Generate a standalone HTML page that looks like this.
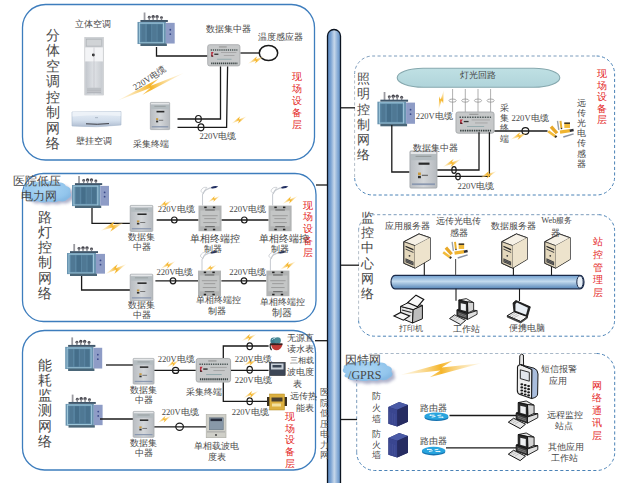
<!DOCTYPE html>
<html><head><meta charset="utf-8"><style>
html,body{margin:0;padding:0;background:#fff;width:631px;height:483px;overflow:hidden}
#c{position:relative;width:631px;height:483px;overflow:hidden}
svg{position:absolute;left:0;top:0}
.t{position:absolute;font-family:"Liberation Serif",serif;color:#484848;white-space:nowrap;line-height:1}
.vv{text-align:center;white-space:normal}
.r{color:#e42626}
.g{color:#555}
</style></head><body><div id="c">
<svg width="631" height="483" viewBox="0 0 631 483">
<defs>
<linearGradient id="pipe" x1="0" x2="1" y1="0" y2="0">
<stop offset="0" stop-color="#5a88c0"/><stop offset="0.25" stop-color="#7aa2d2"/><stop offset="0.52" stop-color="#c6d7ea"/><stop offset="0.8" stop-color="#82a8d4"/><stop offset="1" stop-color="#6592c8"/>
</linearGradient>
<linearGradient id="bus" x1="0" x2="0" y1="0" y2="1">
<stop offset="0" stop-color="#6d9ccc"/><stop offset="0.45" stop-color="#c4dbef"/><stop offset="1" stop-color="#5585b8"/>
</linearGradient>
<linearGradient id="boltg" x1="0" x2="1" y1="0" y2="0">
<stop offset="0" stop-color="#fbe0a0" stop-opacity="0.25"/><stop offset="0.5" stop-color="#f5b52a"/><stop offset="1" stop-color="#fbe0a0" stop-opacity="0.25"/>
</linearGradient>
<radialGradient id="cloudg" cx="0.45" cy="0.4" r="0.6">
<stop offset="0" stop-color="#acd6f4"/><stop offset="0.8" stop-color="#92c5ec"/><stop offset="1" stop-color="#86bae4"/>
</radialGradient>
<linearGradient id="ellg" x1="0" x2="0" y1="0" y2="1">
<stop offset="0" stop-color="#bfe0e4"/><stop offset="1" stop-color="#b0d4da"/>
</linearGradient>
<linearGradient id="ctg" x1="0" x2="1" y1="0" y2="0">
<stop offset="0" stop-color="#b9bdc2"/><stop offset="0.5" stop-color="#d3d6d9"/><stop offset="1" stop-color="#b6babf"/>
</linearGradient>
<linearGradient id="svfront" x1="0" x2="1" y1="0" y2="0">
<stop offset="0" stop-color="#efe6cf"/><stop offset="1" stop-color="#d9cba8"/>
</linearGradient>
<linearGradient id="acg" x1="0" x2="1" y1="0" y2="0"><stop offset="0" stop-color="#c2c6cc"/><stop offset="0.5" stop-color="#dfe2e6"/><stop offset="1" stop-color="#c6cacf"/></linearGradient>
<linearGradient id="wacg" x1="0" x2="0" y1="0" y2="1"><stop offset="0" stop-color="#e8eef6"/><stop offset="0.6" stop-color="#d2deec"/><stop offset="1" stop-color="#aebcd0"/></linearGradient>
<filter id="blur1" x="-20%" y="-20%" width="140%" height="140%"><feGaussianBlur stdDeviation="1.5"/></filter>

<symbol id="tr" viewBox="0 0 38 34" overflow="visible" preserveAspectRatio="none">
<rect x="6.3" y="0" width="1.8" height="8" fill="#9a9aa0"/>
<circle cx="12" cy="4.8" r="1.5" fill="#55555c"/><rect x="11.3" y="4.8" width="1.4" height="3.2" fill="#8a8a90"/>
<circle cx="16" cy="4.2" r="1.7" fill="#3e3e46"/><rect x="15.3" y="4.2" width="1.4" height="3.8" fill="#8a8a90"/>
<circle cx="20" cy="4.2" r="1.7" fill="#4a4a52"/><rect x="19.3" y="4.2" width="1.4" height="3.8" fill="#8a8a90"/>
<circle cx="24.5" cy="5.2" r="1.5" fill="#4a4a52"/><rect x="23.8" y="5.2" width="1.4" height="2.8" fill="#8a8a90"/>
<rect x="3" y="7.6" width="28" height="2" fill="#3f566a"/>
<rect x="0" y="9.6" width="29" height="22.4" fill="#6994b0"/>
<rect x="2" y="10.8" width="24.5" height="20" fill="#5a86a3" stroke="#a6cee0" stroke-width="0.9"/>
<rect x="4" y="12" width="4" height="17.5" fill="#4f7894"/>
<rect x="9.5" y="12" width="4.5" height="17.5" fill="#456e8a"/>
<rect x="15" y="12" width="4.5" height="17.5" fill="#4f7894"/>
<rect x="20.5" y="12" width="4.5" height="17.5" fill="#49728e"/>
<rect x="29" y="10.5" width="9" height="21" fill="#8e9cc6"/>
<circle cx="33.5" cy="17.5" r="0.9" fill="#3a4a8a"/><circle cx="33.5" cy="22" r="0.9" fill="#3a4a8a"/>
<rect x="3" y="31.5" width="27" height="2.5" fill="#4a6678"/>
</symbol>

<symbol id="ct" viewBox="0 0 23 26" overflow="visible" preserveAspectRatio="none">
<rect x="0.4" y="0.4" width="22.2" height="25.2" rx="0.8" fill="url(#ctg)" stroke="#a6aaae" stroke-width="0.8"/>
<rect x="1" y="0.8" width="21" height="1.6" fill="#e4e6e8"/>
<rect x="1.2" y="2.4" width="20.6" height="4.2" fill="#b4bcc0"/>
<rect x="5" y="3.6" width="13" height="0.6" fill="#8a9090"/>
<rect x="7.5" y="8.2" width="9" height="1.5" fill="#2a2a2a"/>
<rect x="7" y="15" width="2.4" height="1.8" fill="#c89a40"/>
<rect x="7" y="17.3" width="2.4" height="1.6" fill="#303030"/>
<rect x="10.2" y="16.5" width="5" height="0.9" fill="#707070"/>
<rect x="2" y="22.4" width="19" height="1.2" fill="#8a98b0"/>
</symbol>

<symbol id="cw" viewBox="0 0 34 22" overflow="visible" preserveAspectRatio="none">
<rect x="0.4" y="0.4" width="33.2" height="21.2" rx="2" fill="#c6c8c9" stroke="#a2a5a7" stroke-width="0.8"/>
<rect x="12" y="2.2" width="8" height="0.9" fill="#8a8a8a"/>
<path d="M3.5 5.6 H31" stroke="#4a5656" stroke-width="1.5" stroke-dasharray="1.3 0.9"/>
<path d="M4 19 H31" stroke="#3a4444" stroke-width="1.8" stroke-dasharray="1.3 0.7"/>
<path d="M4 7.8 L6.5 7.8 L5.2 10 L6.5 12.3 L4 12.3 Z" fill="#b83040"/>
<path d="M4.3 10.5 L6 12.5 L4.3 12.5 Z" fill="#222"/>
<rect x="7.2" y="9.3" width="4.2" height="1.3" fill="#333"/>
<rect x="14" y="8" width="16" height="0.7" fill="#9a9a9a"/>
<rect x="17" y="11" width="11" height="0.7" fill="#9a9a9a"/>
<rect x="10" y="14.5" width="15" height="0.8" fill="#8aa4a8"/>
</symbol>

<symbol id="sc" viewBox="0 0 24 26" overflow="visible" preserveAspectRatio="none">
<rect x="0" y="0" width="24" height="26" fill="#b2b4b4"/>
<rect x="2" y="5" width="20" height="16" fill="#c4c6c6"/>
<rect x="6" y="1" width="2.5" height="1.6" fill="#222"/><rect x="15" y="1" width="2.5" height="1.6" fill="#222"/>
<rect x="6" y="23.5" width="2.5" height="1.6" fill="#222"/><rect x="15" y="23.5" width="2.5" height="1.6" fill="#222"/>
<rect x="7" y="4" width="10" height="0.9" fill="#555"/>
<rect x="4" y="10" width="16" height="0.7" fill="#8a8a8a"/>
<rect x="6" y="13" width="12" height="0.7" fill="#8a8a8a"/>
<rect x="5" y="17" width="14" height="0.7" fill="#8a8a8a"/>
<rect x="7" y="21" width="10" height="0.9" fill="#555"/>
</symbol>

<symbol id="lamp" viewBox="0 0 24 22" overflow="visible" preserveAspectRatio="none">
<path d="M4 22 V10 Q6 3 17 2" fill="none" stroke="#c8ccd2" stroke-width="1.2"/>
<path d="M2 6 Q4 1 9 2 Q6 5 5 9 Z" fill="none" stroke="#c0c4ca" stroke-width="0.8"/>
<path d="M14 1.5 Q19 -0.5 22 1 Q19 3.5 14 3 Z" fill="#1f2d60"/>
</symbol>

<symbol id="sv" viewBox="0 0 28 37" overflow="visible" preserveAspectRatio="none">
<path d="M1 9 L16 1 L27 5 L27 27 L12 36 L1 31 Z" fill="#f0e8d6" stroke="#111" stroke-width="1.3" stroke-linejoin="round"/>
<path d="M1 9 L16 1 L27 5 L12 13 Z" fill="#f6f1e6" stroke="#222" stroke-width="0.7"/>
<path d="M1 9 L12 13 L12 36 L1 31 Z" fill="#e4d8bc" stroke="#222" stroke-width="0.7"/>
<path d="M12 13 L27 5 L27 27 L12 36 Z" fill="#ede3cc"/>
<path d="M2.5 13 L10.5 16.5 L10.5 18 L2.5 14.5 Z" fill="#222"/>
<path d="M2.5 16 L10.5 19.5 L10.5 20.5 L2.5 17 Z" fill="#444"/>
<circle cx="6.5" cy="23.5" r="0.9" fill="#333"/>
<path d="M2.5 26 L10.5 29.5 L10.5 33.5 L2.5 30 Z" fill="#333"/>
<path d="M3 27.5 L10 30.5 M3 29 L10 32" stroke="#bbb" stroke-width="0.4"/>
</symbol>

<symbol id="ps" viewBox="0 0 26 21" overflow="visible" preserveAspectRatio="none">
<path d="M9.5 2 L10.8 11.5" stroke="#9aa2aa" stroke-width="1.4"/>
<path d="M12.5 2 L13.4 9.5" stroke="#e8b030" stroke-width="2"/><circle cx="13.5" cy="10" r="0.8" fill="#333"/>
<rect x="16.3" y="4" width="5.7" height="5.4" fill="#f2bb3a"/><rect x="16.3" y="3.6" width="5.7" height="1.6" fill="#3a3428"/>
<path d="M3 8 L9 15" stroke="#e8a828" stroke-width="3.4"/>
<path d="M0.2 12.9 L7.2 18.1" stroke="#f2bb3a" stroke-width="2.7"/><path d="M7 17.9 L8.6 19.1" stroke="#3a3428" stroke-width="2.4"/>
<path d="M12 13.8 L22 12.3" stroke="#f0b430" stroke-width="3.4"/><path d="M21.8 12.3 L25.6 11.6" stroke="#2f2f35" stroke-width="2.6"/>
<path d="M15.3 19 L25.6 15.6" stroke="#8a92a2" stroke-width="1.6"/>
</symbol>

<symbol id="ws" viewBox="0 0 30 28" overflow="visible" preserveAspectRatio="none">
<path d="M8.5 12.2 L11.2 11.2 L30.1 12.9 L19.8 16.2 Z" fill="#f2f2f2" stroke="#111" stroke-width="0.9" stroke-linejoin="round"/>
<path d="M8.5 12.2 L19.8 16.2 L19.8 22.5 L8.5 18.2 Z" fill="#3a3a3a" stroke="#111" stroke-width="0.9"/>
<path d="M10 15.5 L18.5 18.5 M10 17 L18.5 20" stroke="#bbb" stroke-width="0.5"/>
<path d="M19.8 16.2 L30.1 12.9 L30.1 16.9 L19.8 22.5 Z" fill="#e0e0e0" stroke="#111" stroke-width="0.9"/>
<path d="M10.5 1.6 L18.5 0 L26.4 4.3 L19.8 3.6 Z" fill="#e8e8e8" stroke="#111" stroke-width="0.9"/>
<path d="M19.8 3.6 L26.4 4.3 L26.4 12.6 L20.1 15.5 Z" fill="#d4d4d4" stroke="#111" stroke-width="0.9"/>
<path d="M10.5 1.6 L19.8 3.6 L20.1 15.5 L10.5 12.9 Z" fill="#2a2a2a" stroke="#111" stroke-width="0.9"/>
<path d="M12.6 4.9 L18.1 6.2 L18.1 13.4 L12.6 12 Z" fill="#eef0f2"/>
<path d="M0.6 21.5 L5.9 17.5 L17.8 23.5 L12.5 28 Z" fill="#e6e6e6" stroke="#111" stroke-width="1"/>
<path d="M3 21.2 L7 18.6 M5 22.3 L9 19.7 M7.2 23.5 L11.2 20.9" stroke="#999" stroke-width="0.5"/>
</symbol>

<symbol id="pr" viewBox="0 0 32 30" overflow="visible" preserveAspectRatio="none">
<path d="M10 10 L20 4 L31 8 L31 22 L22 28 L10 24 Z" fill="#dcdcdc" stroke="#111" stroke-width="1"/>
<path d="M10 10 L20 4 L31 8 L22 13 Z" fill="#f0f0f0" stroke="#111" stroke-width="0.8"/>
<path d="M22 13 L22 28" stroke="#111" stroke-width="0.8"/>
<path d="M22 13 L31 8 L31 22 L22 28 Z" fill="#b8b8b8"/>
<path d="M15 8 L21 1 L29 4.5 L23 10.5 Z" fill="#fafafa" stroke="#111" stroke-width="0.9"/>
<path d="M1 19 L11 15 L21 20 L11 25 Z" fill="#f6f6f6" stroke="#111" stroke-width="1"/>
<path d="M4 19.5 L11 16.8 M6 21 L13 18.3" stroke="#777" stroke-width="0.5"/>
</symbol>

<symbol id="lt" viewBox="0 0 26 24" overflow="visible" preserveAspectRatio="none">
<path d="M7 3 L10 0.5 L25 7 L22 17 L8 12 Z" fill="#222" stroke="#111" stroke-width="0.8"/>
<path d="M9.5 4 L11 2.5 L22.5 8 L20.5 15 L9.5 11 Z" fill="#e8eef4"/>
<path d="M1 16 L8 12 L22 17 L15 22 Z" fill="#f2f2f2" stroke="#111" stroke-width="1"/>
<path d="M1 16 L1 17.5 L15 23.5 L22 18.5 L22 17 L15 22 Z" fill="#555" stroke="#111" stroke-width="0.6"/>
<path d="M4 16 L9 13.5 M6 17 L11 14.5 M8 18 L13 15.5" stroke="#888" stroke-width="0.5"/>
</symbol>

<symbol id="ph" viewBox="0 0 22 44" overflow="visible" preserveAspectRatio="none">
<rect x="3.2" y="0.5" width="3" height="12" rx="1.5" fill="#eee" stroke="#222" stroke-width="0.8"/>
<path d="M1 14 Q1 10 6 10 L15 10.5 Q21 11.5 21 16 L21 38 Q21 43 15 43 L6 42.5 Q1 42 1 38 Z" fill="#f2f2f2" stroke="#222" stroke-width="1"/>
<path d="M15 10.5 Q21 11.5 21 16 L21 38 Q21 43 15 43 L15.5 38 L16 15 Z" fill="#9fb3d6" stroke="#222" stroke-width="0.6"/>
<rect x="4" y="14.5" width="9" height="7.5" fill="#d4d8dc" stroke="#222" stroke-width="0.8"/>
<g fill="#222">
<ellipse cx="5.5" cy="26" rx="1.3" ry="1"/><ellipse cx="9" cy="26.3" rx="1.3" ry="1"/><ellipse cx="12.5" cy="26.6" rx="1.3" ry="1"/>
<ellipse cx="5.5" cy="29.5" rx="1.3" ry="1"/><ellipse cx="9" cy="29.8" rx="1.3" ry="1"/><ellipse cx="12.5" cy="30.1" rx="1.3" ry="1"/>
<ellipse cx="5.5" cy="33" rx="1.3" ry="1"/><ellipse cx="9" cy="33.3" rx="1.3" ry="1"/><ellipse cx="12.5" cy="33.6" rx="1.3" ry="1"/>
<ellipse cx="6" cy="36.5" rx="1.3" ry="1"/><ellipse cx="9.5" cy="36.8" rx="1.3" ry="1"/><ellipse cx="12.5" cy="37.1" rx="1.3" ry="1"/>
</g>
</symbol>

<symbol id="fw" viewBox="0 0 20 25" overflow="visible" preserveAspectRatio="none">
<path d="M0 5 L11 0 L20 3 L20 20 L9 25 L0 22 Z" fill="#2c3470"/>
<path d="M0 5 L11 0 L20 3 L9 8 Z" fill="#4a5aa6"/>
<path d="M0 5 L9 8 L9 25 L0 22 Z" fill="#3a4690"/>
<path d="M9 8 L20 3 L20 20 L9 25 Z" fill="#262c62"/>
<path d="M1.5 10 L1.5 21 M4 11 L4 22 M6.5 12 L6.5 23" stroke="#4c58a0" stroke-width="0.6"/>
</symbol>

<symbol id="rt" viewBox="0 0 26 10" overflow="visible" preserveAspectRatio="none">
<ellipse cx="13" cy="5.8" rx="12.5" ry="4" fill="#1572b0"/>
<ellipse cx="13" cy="4.3" rx="12.5" ry="4" fill="#28a4de"/>
<path d="M6 3.2 L11 3.2 M15 5.4 L20 5.4 M8 5.4 L12 4.6 M14 3.6 L18 3" stroke="#fff" stroke-width="1"/>
<path d="M5.5 3.2 L7 2.4 L7 4 Z M20.5 5.4 L19 4.6 L19 6.2 Z" fill="#fff"/>
</symbol>

<symbol id="bolt" viewBox="-50 -10 100 20" overflow="visible">
<path d="M-50 1.5 L15 -9 L1 -1.8 L50 -1.5 L-15 9 L-1 1.8 Z" fill="url(#boltg)"/>
</symbol>

<symbol id="cloud" viewBox="0 0 50 20" overflow="visible" preserveAspectRatio="none">
<path d="M5 13 Q0.5 11 3 7.5 Q2.5 3.5 8 4 Q10 0.5 16 2 Q20 -0.5 26 1.5 Q31 -0.5 36 2.5 Q42 1.5 44 5.5 Q50 7 48 11 Q51 15 46 17 Q43 20.5 37 19 Q33 21 27 19.5 Q21 21.5 16 19 Q9 20.5 7 17 Q1.5 16.5 5 13 Z"/>
</symbol>
</defs>
<g fill="none" stroke="#3d7dbd" stroke-width="1.3">
<rect x="22.5" y="4.5" width="292" height="155.5" rx="23"/>
<rect x="22.5" y="173.5" width="293.5" height="148" rx="21"/>
<rect x="22.5" y="330.5" width="293" height="139.5" rx="22"/>
</g>
<path d="M354.6 177 V74" stroke="#b4bec8" stroke-dasharray="3.1 2.4" fill="none" stroke-width="1"/>
<path d="M354.6 74 A18 18 0 0 1 372.6 56 H596.6" stroke="#7c9cbc" stroke-dasharray="3.1 2.4" fill="none" stroke-width="1"/>
<path d="M596.6 56 A18 18 0 0 1 614.6 74 V177 A18 18 0 0 1 596.6 195 H372.6 A18 18 0 0 1 354.6 177" stroke="#4a82b6" stroke-dasharray="3.1 2.4" fill="none" stroke-width="1"/>
<path d="M358.6 320.2 V230.7" stroke="#b4bec8" stroke-dasharray="3.1 2.4" fill="none" stroke-width="1"/>
<path d="M358.6 230.7 A16 16 0 0 1 374.6 214.7 H598.6" stroke="#7c9cbc" stroke-dasharray="3.1 2.4" fill="none" stroke-width="1"/>
<path d="M598.6 214.7 A16 16 0 0 1 614.6 230.7 V320.2 A16 16 0 0 1 598.6 336.2 H374.6 A16 16 0 0 1 358.6 320.2" stroke="#4a82b6" stroke-dasharray="3.1 2.4" fill="none" stroke-width="1"/>
<path d="M356.7 452.5 V371.5" stroke="#7c9cbc" stroke-dasharray="3.1 2.4" fill="none" stroke-width="1"/>
<path d="M356.7 371.5 A18 18 0 0 1 374.7 353.5 H596.7" stroke="#a8b8c8" stroke-dasharray="3.1 2.4" fill="none" stroke-width="1"/>
<path d="M596.7 353.5 A18 18 0 0 1 614.7 371.5 V452.5 A18 18 0 0 1 596.7 470.5 H374.7 A18 18 0 0 1 356.7 452.5" stroke="#4a82b6" stroke-dasharray="3.1 2.4" fill="none" stroke-width="1"/>
<path d="M316 185 L328 185" fill="none" stroke="#1a1a1a" stroke-width="1.3"/>
<path d="M315 340.7 L328 340.7" fill="none" stroke="#1a1a1a" stroke-width="1.3"/>
<path d="M340 107.8 L355 107.8" fill="none" stroke="#1a1a1a" stroke-width="1.3"/>
<path d="M340 265.2 L359 265.2" fill="none" stroke="#1a1a1a" stroke-width="1.3"/>
<path d="M340 419.5 L357 419.5" fill="none" stroke="#1a1a1a" stroke-width="1.3"/>
<use href="#tr" x="137.5" y="12.5" width="37.2" height="33.5" />
<path d="M156.5 47 L156.5 56 L207.5 56" fill="none" stroke="#1a1a1a" stroke-width="1.3"/>
<use href="#cw" x="207.3" y="44.3" width="33" height="22" />
<path d="M240.5 53 L259.5 53" fill="none" stroke="#1a1a1a" stroke-width="1.3"/>
<ellipse cx="268.5" cy="53" rx="9.2" ry="7.6" fill="none" stroke="#1a1a1a" stroke-width="1.5"/>
<use href="#bolt" x="-50" y="-10" width="100" height="20" transform="translate(256 60) rotate(-22) scale(0.18 0.34199999999999997)"/>
<rect x="84.8" y="37.5" width="18.5" height="57.5" fill="#e4e6e9" stroke="#b9bcc0" stroke-width="0.6"/>
<rect x="85.3" y="38" width="17.5" height="9.5" fill="#c4c8cc"/>
<rect x="86.5" y="39.5" width="15" height="6.5" fill="#d0d3d6" stroke="#a8acb0" stroke-width="0.4"/>
<rect x="85.3" y="47.5" width="17.5" height="14" fill="#f3f4f6"/>
<circle cx="93.4" cy="55" r="1.4" fill="#1a1a1a"/>
<rect x="85.3" y="61.5" width="17.5" height="33" fill="url(#acg)"/>
<line x1="94" y1="47.5" x2="94" y2="94.5" stroke="#b0b3b8" stroke-width="0.5"/>
<rect x="86.5" y="87.5" width="15" height="6" fill="#c8cbcf"/>
<path d="M87 89 H101 M87 90.8 H101 M87 92.6 H101" stroke="#9a9ea4" stroke-width="0.5"/>
<path d="M72 112 L121 111.5 L121 125 Q97 128 72 126 Z" fill="url(#wacg)" stroke="#a8b8cc" stroke-width="0.6"/>
<path d="M72.5 112 L120.5 111.8 L120.5 116 Q97 114.5 72.5 116.5 Z" fill="#edf2f8"/>
<path d="M86 123.8 Q97 124.8 109 123.6" fill="none" stroke="#2a2a30" stroke-width="0.9"/>
<rect x="95" y="117.5" width="3" height="0.6" fill="#8a98aa"/>
<use href="#ct" x="150" y="102" width="20" height="28" />
<path d="M220.5 66.5 L220.5 119 L177.5 119" fill="none" stroke="#1a1a1a" stroke-width="1.3"/>
<path d="M227.6 66.5 L226.6 127.3 L177.5 127.3" fill="none" stroke="#1a1a1a" stroke-width="1.3"/>
<ellipse cx="198.4" cy="119" rx="2.9" ry="3.5" fill="none" stroke="#1a1a1a" stroke-width="1.2"/>
<ellipse cx="201" cy="127.3" rx="2.9" ry="3.5" fill="none" stroke="#1a1a1a" stroke-width="1.2"/>
<use href="#bolt" x="-50" y="-10" width="100" height="20" transform="translate(239 120) rotate(-22) scale(0.17 0.323)"/>
<use href="#bolt" x="-50" y="-10" width="100" height="20" transform="translate(150.5 86.8) rotate(-21.5) scale(0.72 0.5184)"/>
<g filter="url(#blur1)" opacity="0.6"><use href="#cloud" x="25" y="183" width="50" height="21" fill="#7c80a8"/></g>
<use href="#cloud" x="21" y="180" width="51" height="22" fill="url(#cloudg)"/>
<use href="#tr" x="72" y="176" width="37" height="32" />
<use href="#tr" x="67" y="244" width="38" height="32" />
<path d="M92 208 L92 223.3 L130 223.3" fill="none" stroke="#1a1a1a" stroke-width="1.3"/>
<path d="M81.6 276 L81.6 290 L130 290" fill="none" stroke="#1a1a1a" stroke-width="1.3"/>
<use href="#ct" x="129.8" y="205" width="23.4" height="26.8" />
<use href="#ct" x="129.8" y="273.8" width="23.4" height="27.2" />
<use href="#bolt" x="-50" y="-10" width="100" height="20" transform="translate(112.5 226.5) rotate(-17) scale(0.25 0.475)"/>
<use href="#bolt" x="-50" y="-10" width="100" height="20" transform="translate(116 269) rotate(-22) scale(0.23 0.437)"/>
<path d="M156.7 220 L198.5 220" fill="none" stroke="#1a1a1a" stroke-width="1.3"/>
<ellipse cx="174.3" cy="220" rx="2.8" ry="3" fill="none" stroke="#1a1a1a" stroke-width="1.2"/>
<path d="M221.4 220 L268.6 220" fill="none" stroke="#1a1a1a" stroke-width="1.3"/>
<ellipse cx="244.3" cy="220" rx="2.8" ry="3" fill="none" stroke="#1a1a1a" stroke-width="1.2"/>
<path d="M155.4 280.8 L198 280.8" fill="none" stroke="#1a1a1a" stroke-width="1.3"/>
<ellipse cx="173" cy="280.8" rx="2.8" ry="3" fill="none" stroke="#1a1a1a" stroke-width="1.2"/>
<path d="M221.4 280.8 L266.4 280.8" fill="none" stroke="#1a1a1a" stroke-width="1.3"/>
<ellipse cx="244" cy="280.8" rx="2.8" ry="3" fill="none" stroke="#1a1a1a" stroke-width="1.2"/>
<use href="#sc" x="198.5" y="205.6" width="23" height="25.6" />
<use href="#lamp" x="199.0" y="185.6" width="21" height="20" />
<use href="#sc" x="268.6" y="205.6" width="23" height="25.6" />
<use href="#lamp" x="269.1" y="185.6" width="21" height="20" />
<use href="#sc" x="198" y="270.6" width="23" height="25.6" />
<use href="#lamp" x="198.5" y="250.60000000000002" width="21" height="20" />
<use href="#sc" x="266.4" y="270.6" width="23" height="25.6" />
<use href="#lamp" x="266.9" y="250.60000000000002" width="21" height="20" />
<use href="#bolt" x="-50" y="-10" width="100" height="20" transform="translate(165 204) rotate(-25) scale(0.16 0.304)"/>
<use href="#bolt" x="-50" y="-10" width="100" height="20" transform="translate(214 199) rotate(-25) scale(0.14 0.266)"/>
<use href="#bolt" x="-50" y="-10" width="100" height="20" transform="translate(290 200) rotate(-25) scale(0.17 0.323)"/>
<use href="#bolt" x="-50" y="-10" width="100" height="20" transform="translate(168 265) rotate(-25) scale(0.17 0.323)"/>
<use href="#bolt" x="-50" y="-10" width="100" height="20" transform="translate(210.5 268) rotate(-25) scale(0.14 0.266)"/>
<use href="#bolt" x="-50" y="-10" width="100" height="20" transform="translate(288 265.5) rotate(-25) scale(0.18 0.34199999999999997)"/>
<use href="#tr" x="65.2" y="337.4" width="37" height="33.6" />
<use href="#tr" x="65.6" y="394.6" width="37" height="33" />
<path d="M106 365 L133 365" fill="none" stroke="#1a1a1a" stroke-width="1.3"/>
<path d="M100 419 L133 419" fill="none" stroke="#1a1a1a" stroke-width="1.3"/>
<use href="#ct" x="132.8" y="358" width="21.6" height="26.5" />
<use href="#ct" x="132.8" y="411" width="21.6" height="26.7" />
<path d="M154.4 370.4 L195.8 370.4" fill="none" stroke="#1a1a1a" stroke-width="1.3"/>
<ellipse cx="175.6" cy="370.4" rx="3.1" ry="3" fill="none" stroke="#1a1a1a" stroke-width="1.2"/>
<path d="M154.4 426.8 L206.2 426.8" fill="none" stroke="#1a1a1a" stroke-width="1.3"/>
<ellipse cx="179.6" cy="426.8" rx="3.8" ry="3.6" fill="none" stroke="#1a1a1a" stroke-width="1.2"/>
<use href="#bolt" x="-50" y="-10" width="100" height="20" transform="translate(173 363.6) rotate(-28) scale(0.15 0.285)"/>
<use href="#bolt" x="-50" y="-10" width="100" height="20" transform="translate(164.5 419.3) rotate(-25) scale(0.16 0.304)"/>
<use href="#cw" x="195.8" y="358" width="35.2" height="24.5" />
<path d="M223.3 358 L223.3 346 L268.6 346" fill="none" stroke="#1a1a1a" stroke-width="1.3"/>
<path d="M231 370.4 L268.6 370.4" fill="none" stroke="#1a1a1a" stroke-width="1.3"/>
<path d="M223.3 382.5 L223.3 401.4 L268.6 401.4" fill="none" stroke="#1a1a1a" stroke-width="1.3"/>
<ellipse cx="249.7" cy="346.3" rx="2.7" ry="3.4" fill="none" stroke="#1a1a1a" stroke-width="1.2"/>
<ellipse cx="249.7" cy="369.8" rx="2.7" ry="3.4" fill="none" stroke="#1a1a1a" stroke-width="1.2"/>
<ellipse cx="249.7" cy="401.2" rx="2.7" ry="3.4" fill="none" stroke="#1a1a1a" stroke-width="1.2"/>
<use href="#bolt" x="-50" y="-10" width="100" height="20" transform="translate(249 337.5) rotate(-22) scale(0.17 0.323)"/>
<use href="#bolt" x="-50" y="-10" width="100" height="20" transform="translate(250.5 362.5) rotate(-22) scale(0.16 0.304)"/>
<use href="#bolt" x="-50" y="-10" width="100" height="20" transform="translate(251 394.5) rotate(-22) scale(0.17 0.323)"/>
<circle cx="273.8" cy="341" r="3.4" fill="#3e7c8e"/><circle cx="277.6" cy="340.6" r="3.3" fill="#4a8a96"/>
<path d="M272 340 Q273 338 275 338.5" stroke="#a8d0dc" stroke-width="1" fill="none"/>
<path d="M271 344.5 L282.5 344.5 Q281 350.5 276 350.3 Q272 350 271 344.5 Z" fill="#c23a36"/>
<rect x="270" y="343.3" width="12.5" height="1.8" fill="#3a2020"/>
<path d="M270.3 344 Q269.6 348 271.6 350.2" stroke="#2a2a2a" stroke-width="1.1" fill="none"/>
<rect x="269.5" y="362.3" width="15.7" height="13.3" fill="#3c4656" stroke="#222" stroke-width="0.5"/>
<rect x="271" y="363.5" width="12.5" height="6" fill="#c8d0d8"/>
<rect x="272.5" y="365" width="9" height="2.5" fill="#3a4656"/>
<rect x="267" y="397" width="3" height="9" fill="#3a3020"/><rect x="284" y="397" width="3" height="9" fill="#3a3020"/>
<rect x="269.5" y="394" width="15" height="16" fill="#dcb040" stroke="#b08820" stroke-width="0.5"/>
<rect x="271.5" y="397.5" width="11" height="4" fill="#4a4030"/>
<rect x="272" y="403.5" width="9" height="3" fill="#f2e0a0"/>
<rect x="206.2" y="414.5" width="19.8" height="23.2" fill="#cfcfc8" stroke="#a9a9a2" stroke-width="0.6"/>
<rect x="209.4" y="417.8" width="13.8" height="12" fill="#8898a8" stroke="#5a6a7a" stroke-width="0.5"/>
<rect x="210.5" y="418.6" width="11.5" height="2.5" fill="#2a3040"/>
<rect x="207" y="431.5" width="18" height="0.8" fill="#999"/>
<circle cx="216" cy="435" r="0.9" fill="#333"/>
<rect x="397.2" y="68.3" width="162.6" height="19" rx="26" ry="9.5" fill="url(#ellg)" stroke="#86a8ae" stroke-width="1.1"/>
<use href="#tr" x="377.4" y="92" width="37.6" height="34.3" />
<path d="M452.6 89 L452.6 112" fill="none" stroke="#9a9a9a" stroke-width="0.8"/>
<ellipse cx="452.6" cy="100.6" rx="3.6" ry="1.6" fill="none" stroke="#8a8a8a" stroke-width="0.7"/>
<path d="M465.3 89 L465.3 112" fill="none" stroke="#9a9a9a" stroke-width="0.8"/>
<ellipse cx="465.3" cy="100.6" rx="3.6" ry="1.6" fill="none" stroke="#8a8a8a" stroke-width="0.7"/>
<path d="M478 89 L478 112" fill="none" stroke="#9a9a9a" stroke-width="0.8"/>
<ellipse cx="478" cy="100.6" rx="3.6" ry="1.6" fill="none" stroke="#8a8a8a" stroke-width="0.7"/>
<path d="M490.6 89 L490.6 112" fill="none" stroke="#9a9a9a" stroke-width="0.8"/>
<ellipse cx="490.6" cy="100.6" rx="3.6" ry="1.6" fill="none" stroke="#8a8a8a" stroke-width="0.7"/>
<use href="#bolt" x="-50" y="-10" width="100" height="20" transform="translate(441.2 100) rotate(-72) scale(0.2 0.34)"/>
<use href="#cw" x="455.5" y="111.6" width="39" height="22" />
<path d="M391.8 125 L391.8 172 L409.5 172" fill="none" stroke="#1a1a1a" stroke-width="1.3"/>
<use href="#ct" x="409.5" y="150.6" width="27.9" height="38" />
<path d="M437.4 170 L479 170 L479 132.3" fill="none" stroke="#1a1a1a" stroke-width="1.3"/>
<path d="M437.4 176.4 L489.4 176.4 L489.4 132.3" fill="none" stroke="#1a1a1a" stroke-width="1.3"/>
<ellipse cx="454" cy="170" rx="2.2" ry="3.3" fill="none" stroke="#1a1a1a" stroke-width="1.2"/>
<ellipse cx="458" cy="176.6" rx="2.3" ry="3.2" fill="none" stroke="#1a1a1a" stroke-width="1.2"/>
<use href="#bolt" x="-50" y="-10" width="100" height="20" transform="translate(452 163) rotate(-20) scale(0.2 0.38)"/>
<use href="#bolt" x="-50" y="-10" width="100" height="20" transform="translate(488 174.7) rotate(-20) scale(0.19 0.361)"/>
<path d="M494.5 131 L547.5 131" fill="none" stroke="#1a1a1a" stroke-width="1.3"/>
<ellipse cx="525.4" cy="131" rx="3.4" ry="3.4" fill="none" stroke="#1a1a1a" stroke-width="1.2"/>
<use href="#bolt" x="-50" y="-10" width="100" height="20" transform="translate(519 136) rotate(-20) scale(0.19 0.361)"/>
<use href="#ps" x="548" y="119" width="26" height="20" />
<path d="M395 275.3 L580 275.3 A4 6.75 0 0 1 580 288.8 L395 288.8 A4 6.75 0 0 1 395 275.3 Z" fill="url(#bus)" stroke="#1a2a4a" stroke-width="1.2"/>
<ellipse cx="580" cy="282" rx="3.2" ry="6.2" fill="#e8f0f8" stroke="#1a2a4a" stroke-width="1"/>
<path d="M424.3 262 L424.3 275.3" fill="none" stroke="#1a1a1a" stroke-width="1.1"/>
<path d="M513.4 262 L513.4 275.3" fill="none" stroke="#1a1a1a" stroke-width="1.1"/>
<path d="M551.5 262 L551.5 275.3" fill="none" stroke="#1a1a1a" stroke-width="1.1"/>
<path d="M455.6 259 L455.6 275.3" fill="none" stroke="#555" stroke-width="1.1"/>
<path d="M456 288.8 L456 300.7" fill="none" stroke="#1a1a1a" stroke-width="1.1"/>
<path d="M519.5 288.8 L519.5 301" fill="none" stroke="#1a1a1a" stroke-width="1.1"/>
<use href="#sv" x="403" y="233" width="28" height="36" />
<use href="#sv" x="501" y="233" width="27" height="36" />
<use href="#sv" x="544" y="233" width="27" height="36" />
<use href="#ps" x="443" y="240" width="25" height="20" />
<path d="M400.6 306.4 L413.2 309.6 L412.5 323 L400.6 318 Z" fill="#e6e6e6" stroke="#111" stroke-width="1"/>
<path d="M413.2 309.6 L422.4 305.4 L422.4 318.8 L412.5 323 Z" fill="#bdbdbd" stroke="#111" stroke-width="1"/>
<path d="M400.6 306.4 L408.3 302.6 L422.4 305.4 L413.2 309.6 Z" fill="#f0f0f0" stroke="#111" stroke-width="1"/>
<path d="M402 310 L411.5 312.5" stroke="#222" stroke-width="1.2"/>
<path d="M407.6 302.6 L416 295.2 L423.8 299.4 L417.5 306.8 Z" fill="#fafafa" stroke="#111" stroke-width="1.1"/>
<path d="M393.9 316 L400.6 312.4 L409.7 316 L403.4 320.2 Z" fill="#f6f6f6" stroke="#111" stroke-width="1.1"/>
<use href="#ws" x="449" y="298.6" width="28" height="26" />
<use href="#lt" x="506.3" y="300" width="25" height="23.5" />
<g filter="url(#blur1)" opacity="0.6"><use href="#cloud" x="345" y="363.5" width="51" height="20" fill="#7c80a8"/></g>
<use href="#cloud" x="340.5" y="360.2" width="53" height="20.5" fill="url(#cloudg)"/>
<use href="#bolt" x="-50" y="-10" width="100" height="20" transform="translate(441 369) rotate(-6.6) scale(0.81 0.7695)"/>
<use href="#fw" x="388.4" y="402" width="19.6" height="24.6" />
<use href="#fw" x="388.4" y="433" width="19.6" height="24.6" />
<use href="#rt" x="424" y="412.3" width="25" height="9" />
<use href="#rt" x="421.4" y="446.6" width="24.5" height="9" />
<path d="M449.5 415.5 L516 415.5" fill="none" stroke="#1a1a1a" stroke-width="1.3"/>
<path d="M446 447.8 L516 447.8" fill="none" stroke="#1a1a1a" stroke-width="1.3"/>
<path d="M519.6 364.5 L519.8 355.5 Q521.5 353 523.4 355 L523.6 365.5 Z" fill="#e8e8e8" stroke="#1a1a1a" stroke-width="1"/>
<path d="M517.5 367 Q518 364.5 521 364.8 L532 369.5 L531.6 398.5 L520 394.5 Q517.2 393.5 517.3 390 Z" fill="#eeeeee" stroke="#1a1a1a" stroke-width="1.1"/>
<path d="M521 364.8 L534 368.2 Q537.8 369.5 538 374 L537.6 394 Q537.4 397.5 531.6 398.5 L532 369.5 Z" fill="#a9bddd" stroke="#1a1a1a" stroke-width="1"/>
<path d="M520.3 369.8 L529.3 372.3 L529.3 381.2 L520.3 378.6 Z" fill="#e2e6ec" stroke="#1a1a1a" stroke-width="0.9"/>
<ellipse cx="521.8" cy="384.3" rx="1.45" ry="1.1" fill="#1a1a1a"/>
<ellipse cx="525.2" cy="385.2" rx="1.45" ry="1.1" fill="#1a1a1a"/>
<ellipse cx="528.6" cy="386.1" rx="1.45" ry="1.1" fill="#1a1a1a"/>
<ellipse cx="521.8" cy="387.4" rx="1.45" ry="1.1" fill="#1a1a1a"/>
<ellipse cx="525.2" cy="388.3" rx="1.45" ry="1.1" fill="#1a1a1a"/>
<ellipse cx="528.6" cy="389.2" rx="1.45" ry="1.1" fill="#1a1a1a"/>
<ellipse cx="521.8" cy="390.5" rx="1.45" ry="1.1" fill="#1a1a1a"/>
<ellipse cx="525.2" cy="391.4" rx="1.45" ry="1.1" fill="#1a1a1a"/>
<ellipse cx="528.6" cy="392.3" rx="1.45" ry="1.1" fill="#1a1a1a"/>
<ellipse cx="521.8" cy="393.6" rx="1.45" ry="1.1" fill="#1a1a1a"/>
<ellipse cx="525.2" cy="394.5" rx="1.45" ry="1.1" fill="#1a1a1a"/>
<ellipse cx="528.6" cy="395.4" rx="1.45" ry="1.1" fill="#1a1a1a"/>
<use href="#ws" x="507.7" y="401" width="30" height="27.6" />
<use href="#ws" x="507.7" y="433" width="30" height="27.6" />
<path d="M327.5 495 V36 A6.5 6.5 0 0 1 340.5 36 V495 Z" fill="url(#pipe)" stroke="#0c1420" stroke-width="1.3"/></svg>
<div class="t vv " style="left:46.1px;top:28.0px;width:13.5px;font-size:13.5px;line-height:15.45px;">分<br>体<br>空<br>调<br>控<br>制<br>网<br>络</div>
<div class="t vv " style="left:38.1px;top:209.6px;width:13.5px;font-size:13.5px;line-height:15.3px;">路<br>灯<br>控<br>制<br>网<br>络</div>
<div class="t vv " style="left:38.1px;top:357.6px;width:13.5px;font-size:13.5px;line-height:15.3px;">能<br>耗<br>监<br>测<br>网<br>络</div>
<div class="t vv " style="left:357.1px;top:71.0px;width:13.0px;font-size:13px;line-height:15.3px;">照<br>明<br>控<br>制<br>网<br>络</div>
<div class="t vv " style="left:360.6px;top:209.9px;width:13.0px;font-size:13px;line-height:15.2px;">监<br>控<br>中<br>心<br>网<br>络</div>
<div class="t vv r" style="left:291.7px;top:70.5px;width:10.0px;font-size:10px;line-height:12.2px;">现<br>场<br>设<br>备<br>层</div>
<div class="t vv r" style="left:303.3px;top:199.7px;width:10.0px;font-size:10px;line-height:11.8px;">现<br>场<br>设<br>备<br>层</div>
<div class="t vv r" style="left:284.5px;top:411.3px;width:10.0px;font-size:10px;line-height:11.6px;">现<br>场<br>设<br>备<br>层</div>
<div class="t vv r" style="left:596.7px;top:68.1px;width:10.0px;font-size:10px;line-height:11.6px;">现<br>场<br>设<br>备<br>层</div>
<div class="t vv r" style="left:593.2px;top:235.7px;width:10.0px;font-size:10px;line-height:12.9px;">站<br>控<br>管<br>理<br>层</div>
<div class="t vv r" style="left:592.2px;top:379.9px;width:10.0px;font-size:10px;line-height:12.5px;">网<br>络<br>通<br>讯<br>层</div>
<div class="t " style="left:74.7px;top:19.8px;font-size:8.8px;">立体空调</div>
<div class="t " style="left:205.7px;top:25.3px;font-size:8.8px;">数据集中器</div>
<div class="t " style="left:257.7px;top:32.8px;font-size:9px;">温度感应器</div>
<div class="t " style="left:131.4px;top:73.8px;font-size:8.8px;transform:rotate(-32deg);transform-origin:50% 50%;">220V电缆</div>
<div class="t " style="left:75.7px;top:136.8px;font-size:8.8px;">壁挂空调</div>
<div class="t " style="left:132.7px;top:139.8px;font-size:8.8px;">采集终端</div>
<div class="t " style="left:199.4px;top:132.4px;font-size:8.6px;">220V电缆</div>
<div class="t " style="left:13.1px;top:175.2px;font-size:12.2px;">医院低压</div>
<div class="t " style="left:20.8px;top:190.2px;font-size:12.4px;">电力网</div>
<div class="t " style="left:127.5px;top:232.8px;font-size:8.8px;">数据集</div>
<div class="t " style="left:132.5px;top:242.8px;font-size:8.8px;">中器</div>
<div class="t " style="left:127.5px;top:300.8px;font-size:8.8px;">数据集</div>
<div class="t " style="left:132.5px;top:311.3px;font-size:8.8px;">中器</div>
<div class="t " style="left:157.7px;top:205.4px;font-size:8.6px;">220V电缆</div>
<div class="t " style="left:229.2px;top:205.4px;font-size:8.6px;">220V电缆</div>
<div class="t " style="left:156.4px;top:267.9px;font-size:8.6px;">220V电缆</div>
<div class="t " style="left:229.2px;top:267.9px;font-size:8.6px;">220V电缆</div>
<div class="t " style="left:189.7px;top:233.8px;font-size:9.6px;">单相终端控</div>
<div class="t " style="left:203.7px;top:244.5px;font-size:8.8px;">制器</div>
<div class="t " style="left:258.7px;top:233.8px;font-size:9.6px;">单相终端控</div>
<div class="t " style="left:270.7px;top:244.5px;font-size:9.2px;">制器</div>
<div class="t " style="left:195.5px;top:296.3px;font-size:9px;">单相终端控</div>
<div class="t " style="left:207.7px;top:306.8px;font-size:9px;">制器</div>
<div class="t " style="left:260.2px;top:297.5px;font-size:9.2px;">单相终端控</div>
<div class="t " style="left:272.3px;top:307.8px;font-size:9.6px;">制器</div>
<div class="t " style="left:129.7px;top:385.6px;font-size:9px;">数据集</div>
<div class="t " style="left:134.7px;top:395.8px;font-size:8.8px;">中器</div>
<div class="t " style="left:129.7px;top:438.8px;font-size:9px;">数据集</div>
<div class="t " style="left:134.7px;top:448.8px;font-size:8.8px;">中器</div>
<div class="t " style="left:157.7px;top:355.4px;font-size:8.6px;">220V电缆</div>
<div class="t " style="left:185.7px;top:387.8px;font-size:8.8px;">采集终端</div>
<div class="t " style="left:234.7px;top:355.4px;font-size:8.6px;">220V电缆</div>
<div class="t " style="left:234.7px;top:375.7px;font-size:8.6px;">220V电缆</div>
<div class="t " style="left:287.2px;top:333.8px;font-size:9px;">无源直</div>
<div class="t " style="left:287.2px;top:344.6px;font-size:9px;">读水表</div>
<div class="t " style="left:289.8px;top:356.9px;font-size:8px;">三相载</div>
<div class="t " style="left:287.2px;top:367.5px;font-size:8.8px;">波电度</div>
<div class="t " style="left:292.7px;top:379.9px;font-size:8.6px;">表</div>
<div class="t " style="left:289.7px;top:391.8px;font-size:8.8px;">远传热</div>
<div class="t " style="left:295.7px;top:403.8px;font-size:8.8px;">能表</div>
<div class="t " style="left:161.7px;top:408.4px;font-size:8.6px;">220V电缆</div>
<div class="t " style="left:194.2px;top:441.8px;font-size:9px;">单相载波电</div>
<div class="t " style="left:207.7px;top:452.8px;font-size:9.4px;">度表</div>
<div class="t " style="left:231.7px;top:408.4px;font-size:8.6px;">220V电缆</div>
<div class="t vv g" style="left:319.7px;top:387.2px;width:8.5px;font-size:8.5px;line-height:10.5px;">医<br>院<br>低<br>压<br>电<br>力<br>网</div>
<div class="t " style="left:459.7px;top:71.3px;font-size:9px;">灯光回路</div>
<div class="t " style="left:415.7px;top:111.9px;font-size:8.6px;">220V电缆</div>
<div class="t vv " style="left:499.7px;top:102.9px;width:8.8px;font-size:8.8px;line-height:10.3px;">采<br>集<br>终<br>端</div>
<div class="t " style="left:412.7px;top:143.8px;font-size:9px;">数据集中器</div>
<div class="t " style="left:457.4px;top:181.9px;font-size:8.6px;">220V电缆</div>
<div class="t " style="left:511.5px;top:114.4px;font-size:8.6px;">220V电缆</div>
<div class="t vv " style="left:576.7px;top:97.5px;width:9.0px;font-size:9px;line-height:10.2px;">远<br>传<br>光<br>电<br>传<br>感<br>器</div>
<div class="t " style="left:385.4px;top:221.6px;font-size:9px;">应用服务器</div>
<div class="t " style="left:435.7px;top:217.4px;font-size:9.2px;">远传光电传</div>
<div class="t " style="left:449.7px;top:228.5px;font-size:9px;">感器</div>
<div class="t " style="left:490.7px;top:221.6px;font-size:9px;">数据服务器</div>
<div class="t " style="left:541.2px;top:217.2px;font-size:8.4px;">Web服务</div>
<div class="t " style="left:550.7px;top:228.5px;font-size:9px;">器</div>
<div class="t " style="left:399.4px;top:324.9px;font-size:8.4px;">打印机</div>
<div class="t " style="left:452.5px;top:324.9px;font-size:8.6px;">工作站</div>
<div class="t " style="left:508.7px;top:323.5px;font-size:9.2px;">便携电脑</div>
<div class="t " style="left:345.4px;top:354.2px;font-size:12.4px;">因特网</div>
<div class="t " style="left:348.1px;top:368.7px;font-size:12px;">/GPRS</div>
<div class="t vv " style="left:371.7px;top:391.3px;width:8.5px;font-size:8.5px;line-height:11.2px;">防<br>火<br>墙</div>
<div class="t vv " style="left:371.7px;top:429.1px;width:8.5px;font-size:8.5px;line-height:10.6px;">防<br>火<br>墙</div>
<div class="t " style="left:419.7px;top:403.5px;font-size:9px;">路由器</div>
<div class="t " style="left:419.7px;top:436.5px;font-size:9px;">路由器</div>
<div class="t " style="left:541.1px;top:364.8px;font-size:9.2px;">短信报警</div>
<div class="t " style="left:549.2px;top:377.1px;font-size:9px;">应用</div>
<div class="t " style="left:546.5px;top:410.8px;font-size:9.2px;">远程监控</div>
<div class="t " style="left:555.2px;top:421.8px;font-size:9.4px;">站点</div>
<div class="t " style="left:547.7px;top:443.1px;font-size:9px;">其他应用</div>
<div class="t " style="left:551.2px;top:453.8px;font-size:9.2px;">工作站</div>
</div></body></html>
